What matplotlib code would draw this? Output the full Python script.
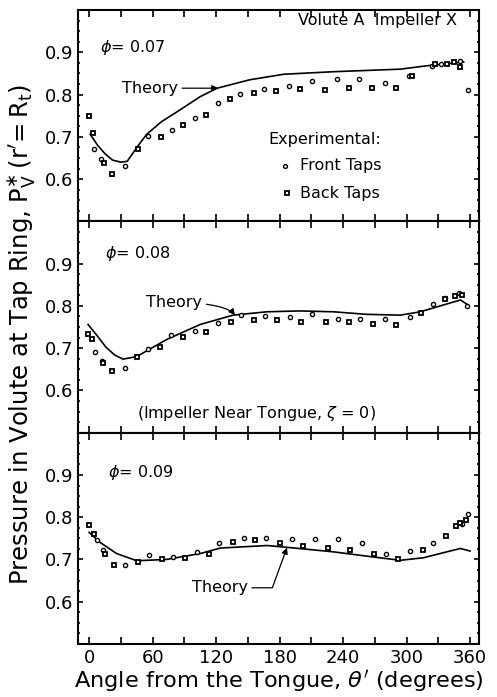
import matplotlib
matplotlib.use("Agg")
import matplotlib.pyplot as plt
from matplotlib.ticker import MultipleLocator

# ---- data ----
# phi = 0.07
front07_x = [5, 11, 34, 55.5, 78, 100, 122, 143, 165, 189, 211, 234, 255, 280, 302, 324, 333, 351, 358]
front07_y = [0.670, 0.647, 0.630, 0.702, 0.717, 0.745, 0.779, 0.802, 0.814, 0.821, 0.831, 0.837, 0.837,
             0.827, 0.844, 0.868, 0.872, 0.880, 0.810]
back07_x = [0, 3.5, 14, 22, 46, 68, 89, 110.5, 133, 156, 177, 199, 223, 246, 267, 290, 305.5, 327, 338, 345, 351]
back07_y = [0.749, 0.708, 0.638, 0.611, 0.670, 0.700, 0.728, 0.751, 0.789, 0.803, 0.809, 0.814, 0.811,
            0.815, 0.815, 0.815, 0.844, 0.872, 0.872, 0.876, 0.864]
theory07_x = [1, 8, 15, 22, 30, 36, 46, 54.5, 68, 83, 105, 121, 152, 184, 231, 294, 319, 335, 351, 354]
theory07_y = [0.706, 0.680, 0.660, 0.645, 0.640, 0.642, 0.678, 0.706, 0.735, 0.759, 0.795, 0.815, 0.835,
              0.848, 0.854, 0.860, 0.868, 0.872, 0.876, 0.877]

# phi = 0.08
front08_x = [6, 12, 34, 55.5, 77, 100, 122, 144, 166, 190, 211, 235, 256, 280, 303, 325, 336, 350, 357.5]
front08_y = [0.690, 0.670, 0.652, 0.698, 0.730, 0.740, 0.760, 0.778, 0.776, 0.773, 0.780, 0.770, 0.768,
             0.768, 0.774, 0.804, 0.818, 0.830, 0.800]
back08_x = [-1, 3, 13.5, 22, 45, 67, 89, 110.5, 134, 156, 178, 200, 224, 246, 268, 290, 314, 336, 346, 352]
back08_y = [0.734, 0.722, 0.666, 0.646, 0.678, 0.702, 0.726, 0.738, 0.762, 0.766, 0.766, 0.762, 0.762,
            0.762, 0.758, 0.754, 0.782, 0.816, 0.824, 0.826]
theory08_x = [-1, 8, 16, 24, 32, 45, 73, 105, 136, 168, 199, 231, 262, 294, 313, 332, 351, 357]
theory08_y = [0.756, 0.728, 0.702, 0.684, 0.674, 0.680, 0.720, 0.756, 0.778, 0.786, 0.788, 0.786, 0.780,
              0.778, 0.786, 0.800, 0.814, 0.804]

# phi = 0.09
front09_x = [7, 13, 34, 56.7, 79, 102, 123, 146, 167, 191.5, 213.5, 235.6, 257.6, 281, 303, 325, 352, 358]
front09_y = [0.745, 0.722, 0.687, 0.710, 0.706, 0.718, 0.739, 0.751, 0.751, 0.748, 0.748, 0.748, 0.740,
             0.714, 0.720, 0.740, 0.784, 0.807]
back09_x = [0.3, 5, 15, 23.6, 46.6, 69, 91, 113, 136, 157, 180, 202, 225.5, 247, 269, 292, 316, 337, 347, 351, 356]
back09_y = [0.782, 0.760, 0.712, 0.687, 0.693, 0.700, 0.704, 0.714, 0.741, 0.745, 0.739, 0.731, 0.726,
            0.722, 0.712, 0.700, 0.722, 0.755, 0.780, 0.787, 0.793]
theory09_x = [0, 10, 26, 45, 73, 105, 124, 168, 190, 231, 262, 294, 316, 338, 351, 360]
theory09_y = [0.764, 0.741, 0.714, 0.697, 0.700, 0.714, 0.727, 0.733, 0.728, 0.718, 0.708, 0.698, 0.704,
              0.718, 0.726, 0.720]

xticks = [0, 60, 120, 180, 240, 300, 360]
yticks = [0.6, 0.7, 0.8, 0.9]

plt.rcParams['font.family'] = ['DejaVu Sans']
plt.rcParams['mathtext.fontset'] = 'dejavusans'

fig = plt.figure(figsize=(4.97, 6.97), dpi=100)
axes = fig.subplots(3, 1, sharex=True)
fig.subplots_adjust(left=78/497, right=479/497, top=1-10/697, bottom=1-644/697, hspace=0)

panels = [
    (front07_x, front07_y, back07_x, back07_y, theory07_x, theory07_y),
    (front08_x, front08_y, back08_x, back08_y, theory08_x, theory08_y),
    (front09_x, front09_y, back09_x, back09_y, theory09_x, theory09_y),
]

for ax, (fx, fy, bx, by, tx, ty) in zip(axes, panels):
    ax.plot(tx, ty, color='black', lw=1.2)
    ax.plot(fx, fy, 'o', ms=3.0, mfc='white', mec='black', mew=1.0, ls='none')
    ax.plot(bx, by, 's', ms=3.2, mfc='white', mec='black', mew=1.3, ls='none')
    ax.set_xlim(-10.5, 368.5)
    ax.set_ylim(0.5, 1.0)
    ax.set_xticks(xticks)
    ax.xaxis.set_minor_locator(MultipleLocator(30))
    ax.set_yticks(yticks)
    ax.set_yticklabels([f"{v:.1f}" for v in yticks])
    ax.yaxis.set_minor_locator(MultipleLocator(0.025))
    ax.tick_params(axis='both', which='both', direction='in', top=True, right=True,
                   labelsize=13, width=1.2, color='black')
    ax.tick_params(axis='x', which='major', length=5)
    ax.tick_params(axis='x', which='minor', length=5)
    ax.tick_params(axis='y', which='major', length=3.5)
    ax.tick_params(axis='y', which='minor', length=1.5)
    for s in ax.spines.values():
        s.set_linewidth(1.5)

ax1, ax2, ax3 = axes
ax3.set_xticklabels([str(v) for v in xticks])
ax3.set_xlabel(r"Angle from the Tongue, $\theta'$ (degrees)", fontsize=16.2, labelpad=1)

fig.text(21/497, 1-334/697, r"Pressure in Volute at Tap Ring, $\mathrm{P_V^{\ast}\,(r'\!=R_t)}$",
         rotation=90, ha='center', va='center', fontsize=17.5)

tsize = 11.5
arrow = dict(arrowstyle='-|>', color='black', lw=0.9, mutation_scale=9, shrinkA=1, shrinkB=0)

# panel 1
ax1.text(348, 0.975, "Volute A  Impeller X", ha='right', va='center', fontsize=tsize)
ax1.text(10.4, 0.912, r"$\phi$= 0.07", ha='left', va='center', fontsize=tsize)
ax1.annotate("Theory", xy=(122, 0.815), xytext=(84, 0.815), ha='right', va='center',
             fontsize=tsize, arrowprops=dict(arrow, connectionstyle='arc3,rad=0'))
ax1.text(169, 0.694, "Experimental:", ha='left', va='center', fontsize=tsize)
ax1.plot([185], [0.631], 'o', ms=2.8, mfc='white', mec='black', mew=1.0)
ax1.text(199, 0.631, "Front Taps", ha='left', va='center', fontsize=tsize)
ax1.plot([187], [0.566], 's', ms=3.0, mfc='white', mec='black', mew=1.3)
ax1.text(199, 0.566, "Back Taps", ha='left', va='center', fontsize=tsize)

# panel 2
ax2.text(15, 0.924, r"$\phi$= 0.08", ha='left', va='center', fontsize=tsize)
ax2.annotate("Theory", xy=(138, 0.778), xytext=(107, 0.808), ha='right', va='center',
             fontsize=tsize, arrowprops=dict(arrow, connectionstyle='angle3,angleA=0,angleB=-50'))
ax2.text(158, 0.546, r"(Impeller Near Tongue, $\zeta$ = 0)", ha='center', va='center', fontsize=tsize)

# panel 3
ax3.text(18, 0.905, r"$\phi$= 0.09", ha='left', va='center', fontsize=tsize)
ax3.annotate("Theory", xy=(187, 0.728), xytext=(150, 0.633), ha='right', va='center',
             fontsize=tsize, arrowprops=dict(arrow, connectionstyle='angle,angleA=0,angleB=70,rad=0'))

fig.savefig("out.png", dpi=100)
